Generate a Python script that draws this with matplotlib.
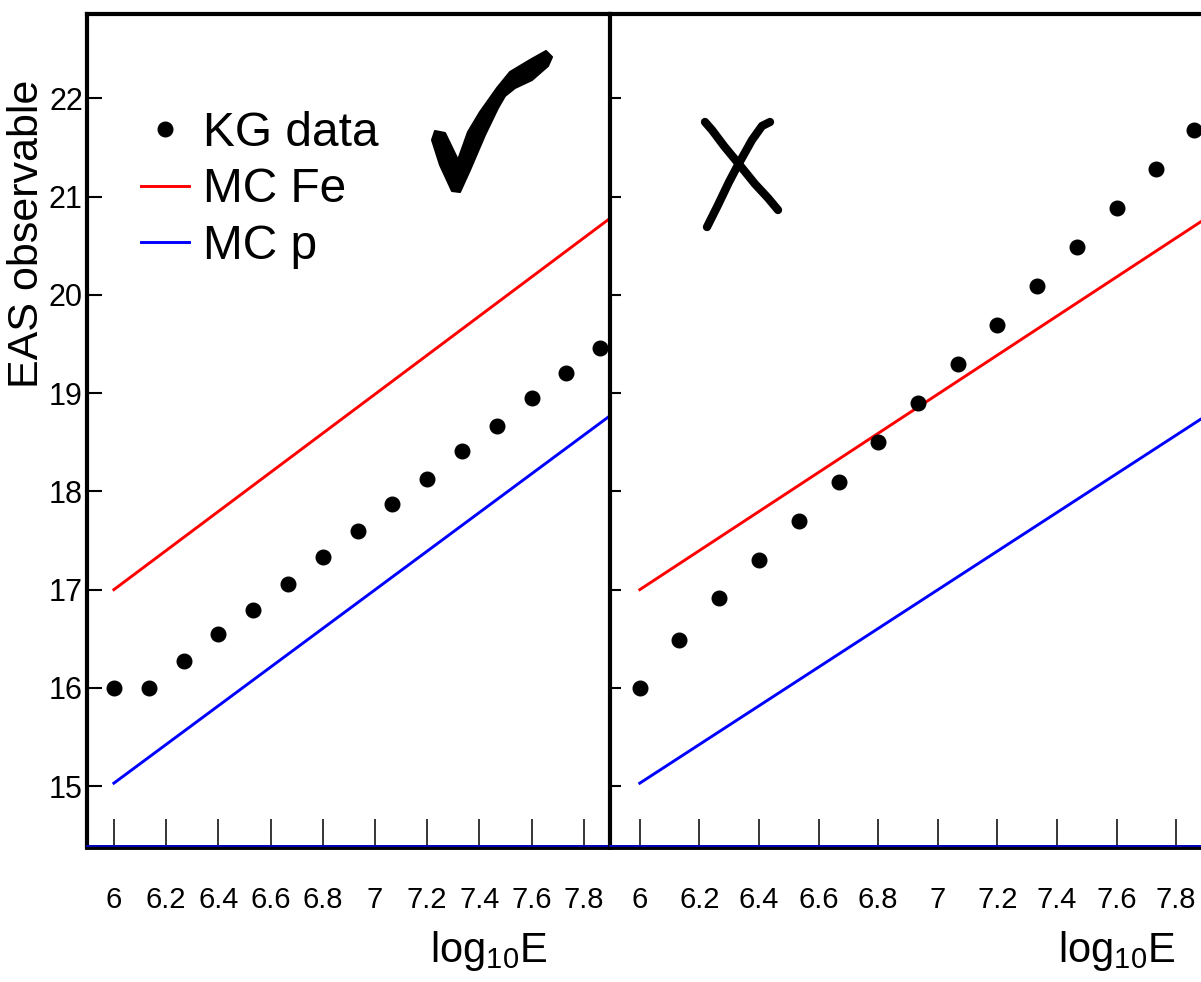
import matplotlib
matplotlib.use("Agg")
import matplotlib.pyplot as plt
from matplotlib.patches import Polygon
from matplotlib.lines import Line2D

# data
energy = [6.0, 6.133, 6.267, 6.4, 6.533, 6.667, 6.8, 6.933, 7.067, 7.2,
          7.333, 7.467, 7.6, 7.733, 7.86]
kg_good = [16.0, 16.0, 16.27, 16.55, 16.79, 17.06, 17.33, 17.6, 17.87, 18.13,
           18.41, 18.67, 18.95, 19.21, 19.46]
kg_bad = [16.0, 16.49, 16.91, 17.3, 17.7, 18.1, 18.5, 18.9, 19.3, 19.69,
          20.09, 20.49, 20.89, 21.28, 21.68]
mc_energy = [6.0, 7.9]
mc_fe = [17.0, 20.78]
mc_p = [15.03, 18.77]

xticks = [6.0, 6.2, 6.4, 6.6, 6.8, 7.0, 7.2, 7.4, 7.6, 7.8]
xtick_labels = ["6", "6.2", "6.4", "6.6", "6.8", "7", "7.2", "7.4", "7.6", "7.8"]
yticks = [15, 16, 17, 18, 19, 20, 21, 22]
ytick_labels = ["15", "16", "17", "18", "19", "20", "21", "22"]

W, H = 1201, 982
plt.rcParams['font.family'] = ['Liberation Sans', 'DejaVu Sans']
plt.rcParams['mathtext.default'] = 'regular'

fig = plt.figure(figsize=(W / 100, H / 100), dpi=100)
fig.patch.set_facecolor('white')


def px(x, y):
    return x / W, 1 - y / H


ax1 = fig.add_axes([87 / W, (H - 847) / H, 523 / W, 833 / H])
ax2 = fig.add_axes([610 / W, (H - 847) / H, 596 / W, 833 / H])

for ax, obs, xmin in [(ax1, kg_good, 5.897), (ax2, kg_bad, 5.9)]:
    ax.plot(mc_energy, mc_fe, color='#ff0000', lw=2.1, label='MC Fe', zorder=2)
    ax.plot(mc_energy, mc_p, color='#0000ff', lw=2.1, label='MC p', zorder=2)
    ax.plot(energy, obs, 'o', color='black', ms=10.5, label='KG data', zorder=3,
            linestyle='none')
    ax.set_xlim(xmin, 7.9)
    ax.set_ylim(14.38, 22.86)
    ax.set_xticks(xticks)
    ax.set_xticklabels(xtick_labels, fontsize=21)
    ax.set_yticks(yticks)
    ax.tick_params(axis='x', direction='in', length=20, width=1.1, pad=28)
    ax.spines['top'].set_linewidth(3)
    ax.spines['left'].set_linewidth(3)
    ax.spines['bottom'].set_linewidth(3.5)
    ax.spines['right'].set_visible(False)
    ax.axhline(14.38 + 0.012, color='#0000cc', lw=1.3, zorder=5, clip_on=False)

ax1.set_yticklabels(ytick_labels, fontsize=22)
ax1.tick_params(axis='y', direction='in', length=11, width=1.5, pad=3)
ax2.set_yticklabels([])
ax2.tick_params(axis='y', direction='in', length=8, width=1.5)

handles, labels = ax1.get_legend_handles_labels()
order = [2, 0, 1]
ax1.legend([handles[i] for i in order], [labels[i] for i in order],
           loc='upper left', bbox_to_anchor=px(141, 111),
           bbox_transform=fig.transFigure, frameon=False, fontsize=34.5,
           borderpad=0, borderaxespad=0, labelspacing=0.24,
           handlelength=1.0, handletextpad=0.3)

fig.text(*px(27, 234), 'EAS observable', rotation=90, ha='center',
         va='center', fontsize=31)
fig.text(*px(547, 962), r'log$_{10}$E', ha='right', va='baseline', fontsize=30)
fig.text(*px(1175, 962), r'log$_{10}$E', ha='right', va='baseline', fontsize=30)

# hand drawn check mark
check = [(458, 160), (468, 132), (480, 112), (497, 88), (510, 72), (530, 60),
         (546, 51), (552, 57), (548, 66), (532, 80), (515, 88), (505, 96),
         (498, 108), (485, 135), (470, 170), (460, 192), (452, 191),
         (440, 165), (432, 140), (435, 131), (445, 133)]
fig.add_artist(Polygon([px(x, y) for x, y in check], closed=True,
                       facecolor='black', edgecolor='black', lw=1.5,
                       joinstyle='round', transform=fig.transFigure))

# hand drawn cross
for stroke in ([(705, 122), (712, 130), (724, 146), (738, 163), (755, 184),
                (768, 198), (778, 210)],
               [(770, 122), (762, 126), (752, 140), (738, 165), (729, 182),
                (718, 205), (707, 227)]):
    xs, ys = zip(*[px(x, y) for x, y in stroke])
    fig.add_artist(Line2D(xs, ys, color='black', lw=6,
                          solid_capstyle='round', solid_joinstyle='round',
                          transform=fig.transFigure))

fig.savefig('out.png', dpi=100, facecolor='white')
